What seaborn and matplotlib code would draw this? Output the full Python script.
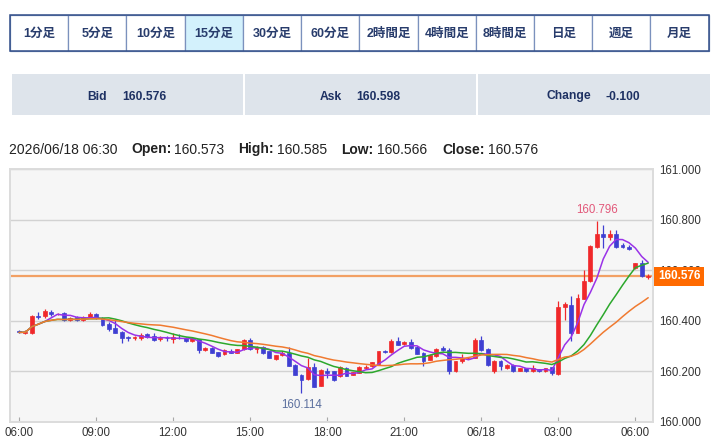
import numpy as np
import pandas as pd
import matplotlib
matplotlib.use("Agg")
import matplotlib.pyplot as plt
import matplotlib.transforms as mtransforms
from matplotlib.patches import Rectangle
import seaborn as sns

# 15 minute candles, 2026/06/17 06:00 -> 2026/06/18 06:30
opens = [160.359, 160.353, 160.351, 160.419, 160.417, 160.436, 160.427, 160.431, 160.402, 160.415,
         160.402, 160.412, 160.426, 160.412, 160.388, 160.371, 160.356, 160.336, 160.331, 160.332,
         160.347, 160.340, 160.329, 160.333, 160.327, 160.333, 160.332, 160.320, 160.327, 160.283,
         160.294, 160.276, 160.267, 160.281, 160.274, 160.287, 160.324, 160.288, 160.297, 160.279,
         160.249, 160.263, 160.274, 160.227, 160.187, 160.169, 160.217, 160.143, 160.203, 160.200,
         160.180, 160.214, 160.186, 160.194, 160.215, 160.220, 160.229, 160.279, 160.275, 160.322,
         160.307, 160.316, 160.295, 160.273, 160.247, 160.260, 160.293, 160.285, 160.200, 160.240,
         160.252, 160.253, 160.323, 160.288, 160.200, 160.240, 160.213, 160.227, 160.203, 160.213,
         160.200, 160.208, 160.200, 160.216, 160.189, 160.456, 160.464, 160.353, 160.487, 160.557,
         160.691, 160.744, 160.731, 160.744, 160.700, 160.693, 160.607, 160.629, 160.573]
highs = [160.362, 160.364, 160.423, 160.436, 160.447, 160.441, 160.431, 160.434, 160.416, 160.418,
         160.418, 160.436, 160.430, 160.414, 160.396, 160.409, 160.358, 160.340, 160.340, 160.351,
         160.350, 160.351, 160.338, 160.340, 160.353, 160.347, 160.335, 160.334, 160.330, 160.295,
         160.296, 160.278, 160.287, 160.290, 160.290, 160.330, 160.331, 160.299, 160.299, 160.281,
         160.265, 160.279, 160.297, 160.229, 160.189, 160.253, 160.233, 160.209, 160.213, 160.203,
         160.220, 160.217, 160.199, 160.221, 160.225, 160.238, 160.282, 160.283, 160.330, 160.335,
         160.321, 160.327, 160.300, 160.276, 160.268, 160.292, 160.300, 160.293, 160.243, 160.267,
         160.257, 160.333, 160.339, 160.291, 160.246, 160.247, 160.230, 160.229, 160.215, 160.215,
         160.227, 160.210, 160.215, 160.218, 160.477, 160.473, 160.500, 160.507, 160.600, 160.700,
         160.796, 160.780, 160.760, 160.757, 160.709, 160.700, 160.629, 160.640, 160.585]
lows = [160.351, 160.346, 160.346, 160.407, 160.412, 160.420, 160.424, 160.399, 160.398, 160.400,
        160.399, 160.410, 160.407, 160.380, 160.359, 160.351, 160.313, 160.321, 160.325, 160.324,
        160.331, 160.322, 160.320, 160.322, 160.311, 160.329, 160.318, 160.318, 160.271, 160.281,
        160.272, 160.256, 160.265, 160.272, 160.272, 160.284, 160.285, 160.271, 160.269, 160.252,
        160.247, 160.261, 160.221, 160.184, 160.114, 160.166, 160.137, 160.141, 160.173, 160.163,
        160.178, 160.180, 160.184, 160.192, 160.211, 160.218, 160.227, 160.271, 160.273, 160.303,
        160.305, 160.290, 160.267, 160.223, 160.245, 160.258, 160.281, 160.189, 160.198, 160.233,
        160.249, 160.251, 160.280, 160.222, 160.193, 160.207, 160.211, 160.198, 160.201, 160.198,
        160.198, 160.198, 160.198, 160.187, 160.187, 160.403, 160.320, 160.351, 160.485, 160.555,
        160.687, 160.687, 160.720, 160.689, 160.687, 160.680, 160.605, 160.574, 160.566]
closes = [160.354, 160.356, 160.420, 160.416, 160.439, 160.426, 160.428, 160.402, 160.412, 160.402,
          160.415, 160.428, 160.410, 160.385, 160.369, 160.353, 160.332, 160.331, 160.334, 160.344,
          160.334, 160.324, 160.332, 160.331, 160.336, 160.331, 160.320, 160.331, 160.283, 160.292,
          160.274, 160.260, 160.284, 160.274, 160.287, 160.324, 160.290, 160.295, 160.271, 160.254,
          160.263, 160.274, 160.223, 160.187, 160.167, 160.217, 160.140, 160.207, 160.194, 160.166,
          160.217, 160.183, 160.196, 160.218, 160.217, 160.236, 160.279, 160.275, 160.319, 160.306,
          160.318, 160.292, 160.270, 160.240, 160.265, 160.289, 160.284, 160.200, 160.240, 160.253,
          160.253, 160.323, 160.285, 160.224, 160.243, 160.220, 160.227, 160.200, 160.213, 160.200,
          160.213, 160.200, 160.213, 160.193, 160.453, 160.466, 160.353, 160.491, 160.557, 160.696,
          160.744, 160.733, 160.744, 160.691, 160.693, 160.683, 160.627, 160.576, 160.576]

last_time = "2026/06/18 06:30"
tick_pos = [0, 12, 24, 36, 48, 60, 72, 84, 96]
tick_labels = ["06:00", "09:00", "12:00", "15:00", "18:00", "21:00", "06/18", "03:00", "06:00"]
y_ticks = [160.0, 160.2, 160.4, 160.6, 160.8, 161.0]
ma_periods = {"ma5": 5, "ma13": 13, "ma21": 21}
ma_colors = {"ma5": "#9a32e8", "ma13": "#2ca82c", "ma21": "#f07a30"}

buttons = ["1分足", "5分足", "10分足", "15分足", "30分足", "60分足",
           "2時間足", "4時間足", "8時間足", "日足", "週足", "月足"]
active_button = "15分足"
quote_labels = ["Bid", "Ask", "Change"]
quote_values = ["160.576", "160.598", "-0.100"]

UP = "#f0282a"
DOWN = "#3f3fd2"
NAVY = "#1e3163"

sns.set_theme(style="white")
plt.rcParams["font.family"] = ["Liberation Sans", "Noto Sans CJK JP", "DejaVu Sans"]

W, H = 720, 446
fig = plt.figure(figsize=(W / 100, H / 100), dpi=100)
fig.patch.set_facecolor("white")


def fx(x):
    return x / W


def fy(y):
    return 1 - y / H


def px_rect(x0, y0, x1, y1, **kw):
    fig.add_artist(Rectangle((fx(x0), fy(y1)), fx(x1) - fx(x0), fy(y0) - fy(y1),
                             transform=fig.transFigure, **kw))


# --- timeframe buttons
bx0, bx1, by0, by1 = 10, 708.7, 15, 51
bw = (bx1 - bx0) / len(buttons)
for i, lab in enumerate(buttons):
    fc = "#d3f1fc" if lab == active_button else "white"
    px_rect(bx0 + i * bw, by0, bx0 + (i + 1) * bw, by1, facecolor=fc, edgecolor="#7b91bd", linewidth=0.9)
    fig.text(fx(bx0 + (i + 0.5) * bw), fy(33.5), lab, ha="center", va="center",
             fontsize=9, fontweight="bold", color="#283c6c")
px_rect(bx0, by0, bx1, by1, facecolor="none", edgecolor="#34508a", linewidth=1.1)

# --- bid / ask / change panels
panels = [(11.5, 242.5), (244.7, 476.0), (478.0, 709.5)]
label_end = [107, 342, 591]
value_start = [122, 356, 605]
for (p0, p1), lab, val, le, vs in zip(panels, quote_labels, quote_values, label_end, value_start):
    px_rect(p0, 74, p1, 115, facecolor="#dee4eb", edgecolor="none")
    fig.text(fx(le), fy(99.5), lab, ha="right", va="baseline", fontsize=8.7, fontweight="bold", color=NAVY)
    fig.text(fx(vs), fy(99.5), val, ha="left", va="baseline", fontsize=8.7, fontweight="bold", color=NAVY)

# --- OHLC info line for the last bar
info = [(last_time, "normal", 9),
        ("Open:", "bold", 131), (f"{opens[-1]:.3f}", "normal", 174),
        ("High:", "bold", 238), (f"{highs[-1]:.3f}", "normal", 277),
        ("Low:", "bold", 341), (f"{lows[-1]:.3f}", "normal", 377),
        ("Close:", "bold", 442), (f"{closes[-1]:.3f}", "normal", 488)]
for txt, wt, x in info:
    fig.text(fx(x), fy(153.5), txt, ha="left", va="baseline", fontsize=10, fontweight=wt, color="#222222")

# --- candle chart
ax = fig.add_axes([fx(10), fy(422), (653 - 10) / W, (422 - 169) / H])
ax.set_facecolor("#f6f6f6")

n = len(closes)
df = pd.DataFrame({"idx": np.arange(n), "open": opens, "high": highs, "low": lows, "close": closes})
for name, p in ma_periods.items():
    df[name] = df["close"].rolling(p, min_periods=1).mean()

colors = [UP if c >= o else DOWN for o, c in zip(df["open"], df["close"])]
body_lo = np.minimum(df["open"], df["close"])
body_h = np.maximum(np.abs(df["close"] - df["open"]), 0.0015)
ax.vlines(df["idx"], df["low"], df["high"], colors=colors, linewidth=0.9, zorder=3)
ax.bar(df["idx"], body_h, bottom=body_lo, width=0.6, color=colors, edgecolor=colors,
       linewidth=0.5, zorder=3.1)

ma_long = df.melt(id_vars="idx", value_vars=list(ma_periods), var_name="ma", value_name="value")
sns.lineplot(data=ma_long, x="idx", y="value", hue="ma", palette=ma_colors, legend=False,
             linewidth=1.1, ax=ax, zorder=4)

last = closes[-1]
ax.axhline(last, color="#f2a064", linewidth=1.6, zorder=2)

hi_i = int(np.argmax(highs))
lo_i = int(np.argmin(lows))
ax.annotate(f"{highs[hi_i]:.3f}", xy=(hi_i, highs[hi_i]), xytext=(0, 3), textcoords="offset points",
            ha="center", va="bottom", fontsize=8.3, color="#e2587a", zorder=5)
ax.annotate(f"{lows[lo_i]:.3f}", xy=(lo_i, lows[lo_i]), xytext=(0, -4), textcoords="offset points",
            ha="center", va="top", fontsize=8.3, color="#5b6f9e", zorder=5)

ax.set_xlim(-1.4, 98.75)
ax.set_ylim(y_ticks[0], y_ticks[-1])
ax.set_xticks(tick_pos)
ax.set_xticklabels(tick_labels)
ax.set_yticks(y_ticks)
ax.set_yticklabels([f"{v:.3f}" for v in y_ticks])
ax.yaxis.tick_right()
ax.set_xlabel("")
ax.set_ylabel("")
ax.tick_params(axis="x", direction="in", length=3.6, width=0.8, color="#a8a8a8", pad=3.5,
               labelsize=8.3, labelcolor="#333333", bottom=True)
ax.tick_params(axis="y", length=0, pad=4.5, labelsize=8.3, labelcolor="#333333", right=True, left=False)
ax.grid(axis="y", color="#d2d2d2", linewidth=1.0, zorder=0)
ax.set_axisbelow(True)
for s in ax.spines.values():
    s.set_visible(True)
    s.set_color("#dcdcdc")
    s.set_linewidth(1.4)

# last price tag on the right axis (covers the 160.600 label, as on the site)
trans = mtransforms.blended_transform_factory(ax.transAxes, ax.transData)
ax.annotate(f"{last:.3f}", xy=(1, last), xycoords=trans, xytext=(3.6, 0), textcoords="offset points",
            ha="left", va="center", fontsize=8.5, fontweight="bold", color="white", zorder=6,
            annotation_clip=False,
            bbox=dict(boxstyle="square,pad=0.3", facecolor="#ff6a00", edgecolor="none"))

fig.savefig("out.png", dpi=100)
